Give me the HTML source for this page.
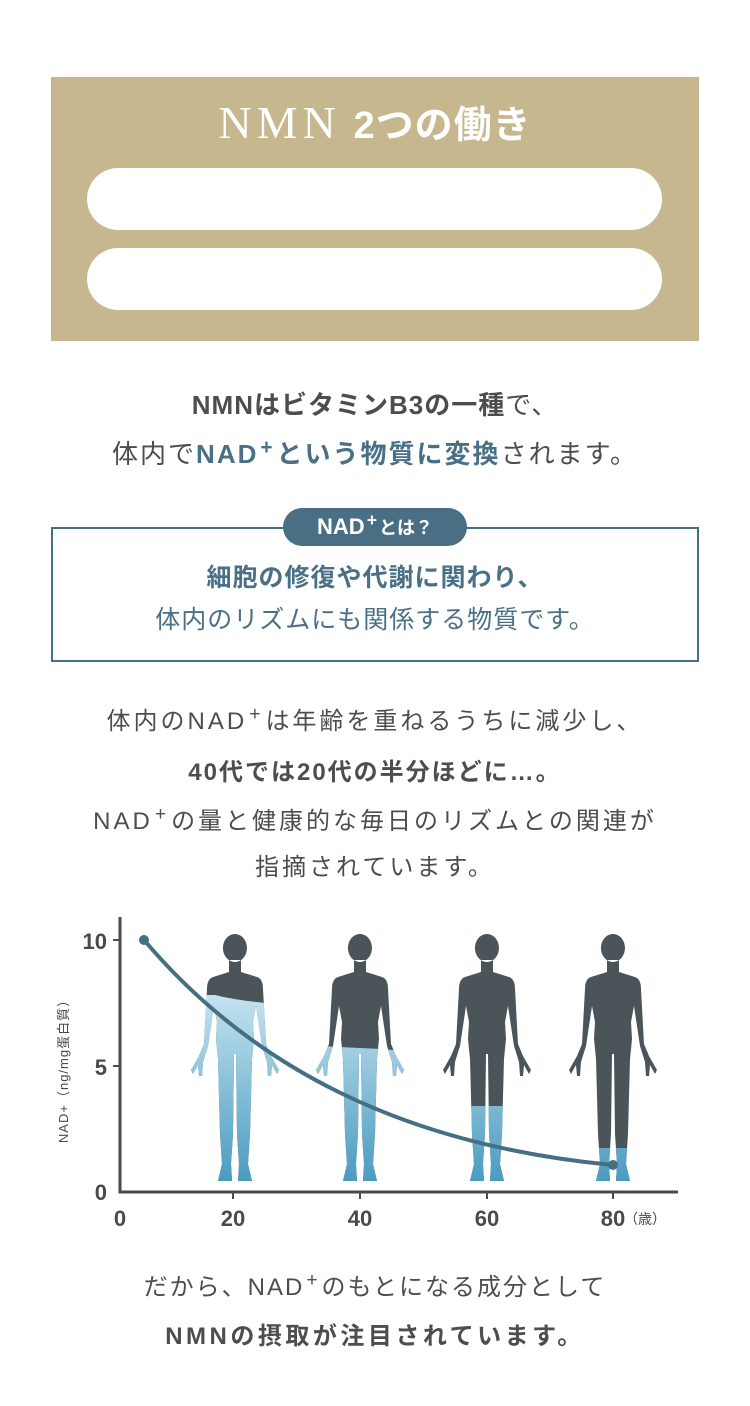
<!DOCTYPE html>
<html><head><meta charset="utf-8"><style>
body{margin:0;width:750px;height:1406px;background:#fff;position:relative;font-family:"Liberation Sans","Noto Sans CJK JP",sans-serif;color:#4d4d4d;overflow:hidden}
.t{position:absolute;left:0;width:750px;text-align:center;white-space:nowrap}
.b{font-weight:bold}.bl{color:#4a7088}
sup{font-size:0.8em;vertical-align:0.45em;line-height:0;margin:0 2px}
</style></head><body>
<div style="position:absolute;left:51px;top:77px;width:648px;height:264px;background:#c6b78f"></div>
<div class="t" style="top:92px;color:#fff;font-size:46px;line-height:60px"><span style="font-family:'Liberation Serif',serif;letter-spacing:5px">NMN</span> <span class="b" style="font-size:38px;letter-spacing:1px">2つの働き</span></div>
<div style="position:absolute;left:87px;top:168px;width:575px;height:62px;border-radius:31px;background:#fff"></div>
<div style="position:absolute;left:87px;top:248px;width:575px;height:62px;border-radius:31px;background:#fff"></div>

<div class="t" style="top:386px;font-size:26px;line-height:38px;letter-spacing:1px"><span class="b">NMNはビタミンB3の一種</span>で、</div>
<div class="t" style="top:435px;font-size:26px;line-height:38px;letter-spacing:2px">体内で<span class="b bl">NAD<sup>+</sup>という物質に変換</span>されます。</div>

<div style="position:absolute;left:51px;top:527px;width:644px;height:131px;border:2px solid #4a6f85"></div>
<div style="position:absolute;left:283px;top:508px;width:184px;height:38px;border-radius:19px;background:#4a6f85;color:#fff;text-align:center;line-height:38px;font-size:22px" class="b">NAD<sup>+</sup><span style="font-size:18px">とは？</span></div>
<div class="t b bl" style="top:560px;font-size:25px;line-height:36px;letter-spacing:1px">細胞の修復や代謝に関わり、</div>
<div class="t bl" style="top:602px;font-size:25px;line-height:36px;letter-spacing:1px">体内のリズムにも関係する物質です。</div>

<div class="t" style="top:704px;font-size:24px;line-height:36px;letter-spacing:3px">体内のNAD<sup>+</sup>は年齢を重ねるうちに減少し、</div>
<div class="t b" style="top:755px;font-size:24px;line-height:36px;letter-spacing:2px">40代では20代の半分ほどに…。</div>
<div class="t" style="top:804px;font-size:24px;line-height:36px;letter-spacing:3px">NAD<sup>+</sup>の量と健康的な毎日のリズムとの関連が</div>
<div class="t" style="top:850px;font-size:24px;line-height:36px;letter-spacing:3px">指摘されています。</div>

<svg style="position:absolute;left:0;top:900px" width="750" height="340" viewBox="0 900 750 340">
<defs>
<linearGradient id="g2" x1="0" y1="40" x2="0" y2="247" gradientUnits="userSpaceOnUse"><stop offset="0" stop-color="#d2ebf5"/><stop offset="1" stop-color="#4b9bc0"/></linearGradient>
<path id="fig" d="M-6,26 L-6,38 L-22,43 Q-28,45 -28,55 L-31,110 L-36,122 L-44,136 L-42,140 L-37,131 L-36,142 L-33,142 L-32,128 L-27,112 L-21,72 L-18,88 L-19,105 L-17,125 L-15,200 L-13,230 L-17,247 L-3,247 L-4,230 L-2,200 L-1,120 L1,120 L2,200 L4,230 L3,247 L17,247 L13,230 L15,200 L17,125 L19,105 L18,88 L21,72 L27,112 L32,128 L33,142 L36,142 L37,131 L42,140 L44,136 L36,122 L31,110 L28,55 Q28,45 22,43 L6,38 L6,26 Z M0,0 A12,14 0 1 1 -0.1,0 Z"/>
<clipPath id="c1"><path d="M-60,61 L-20,61 Q0,66 30,69 L60,69 L60,260 L-60,260Z"/></clipPath>
<clipPath id="c2"><path d="M-60,111 L20,115 L60,118 L60,260 L-60,260Z"/></clipPath>
<clipPath id="c3"><rect x="-60" y="172" width="120" height="90"/></clipPath>
<clipPath id="c4"><rect x="-60" y="214" width="120" height="50"/></clipPath>
</defs>
<g fill="#4a5459">
<use href="#fig" transform="translate(235,934)"/>
<use href="#fig" transform="translate(360,934)"/>
<use href="#fig" transform="translate(487,934)"/>
<use href="#fig" transform="translate(613,934)"/>
</g>
<g fill="url(#g2)">
<g transform="translate(235,934)"><g clip-path="url(#c1)"><use href="#fig"/></g></g>
<g transform="translate(360,934)"><g clip-path="url(#c2)"><use href="#fig"/></g></g>
<g transform="translate(487,934)"><g clip-path="url(#c3)"><use href="#fig"/></g></g>
<g transform="translate(613,934)"><g clip-path="url(#c4)"><use href="#fig"/></g></g>
</g>
<path d="M144,940 C250,1065 400,1145 613,1165" fill="none" stroke="#466f84" stroke-width="4"/>
<circle cx="144" cy="940" r="5" fill="#466f84"/>
<circle cx="613" cy="1165" r="5" fill="#466f84"/>
<path d="M120,917 L120,1192 L678,1192" fill="none" stroke="#4a4a4a" stroke-width="3"/>
<g stroke="#4a4a4a" stroke-width="2"><line x1="113" y1="940" x2="120" y2="940"/><line x1="113" y1="1066" x2="120" y2="1066"/><line x1="233" y1="1192" x2="233" y2="1199"/><line x1="360" y1="1192" x2="360" y2="1199"/><line x1="487" y1="1192" x2="487" y2="1199"/><line x1="613" y1="1192" x2="613" y2="1199"/></g>
<g font-family="Liberation Sans Narrow,Liberation Sans,sans-serif" font-size="22" font-weight="bold" fill="#4a4a4a">
<text x="107" y="949" text-anchor="end">10</text><text x="107" y="1075" text-anchor="end">5</text><text x="107" y="1200" text-anchor="end">0</text>
<text x="120" y="1226" text-anchor="middle">0</text><text x="233" y="1226" text-anchor="middle">20</text><text x="360" y="1226" text-anchor="middle">40</text><text x="487" y="1226" text-anchor="middle">60</text><text x="613" y="1226" text-anchor="middle">80</text>
</g>
<text x="645" y="1224" font-size="14" fill="#4a4a4a" text-anchor="middle" font-family="Liberation Sans,Noto Sans CJK JP,sans-serif">（歳）</text>
<text transform="translate(68,1068) rotate(-90)" text-anchor="middle" font-size="13" fill="#4a4a4a" font-family="Liberation Sans,Noto Sans CJK JP,sans-serif" letter-spacing="1">NAD+（ng/mg蛋白質）</text>
</svg>

<div class="t" style="top:1270px;font-size:24px;line-height:36px;letter-spacing:2px">だから、NAD<sup>+</sup>のもとになる成分として</div>
<div class="t b" style="top:1319px;font-size:24px;line-height:36px;letter-spacing:3.5px">NMNの摂取が注目されています。</div>
</body></html>
